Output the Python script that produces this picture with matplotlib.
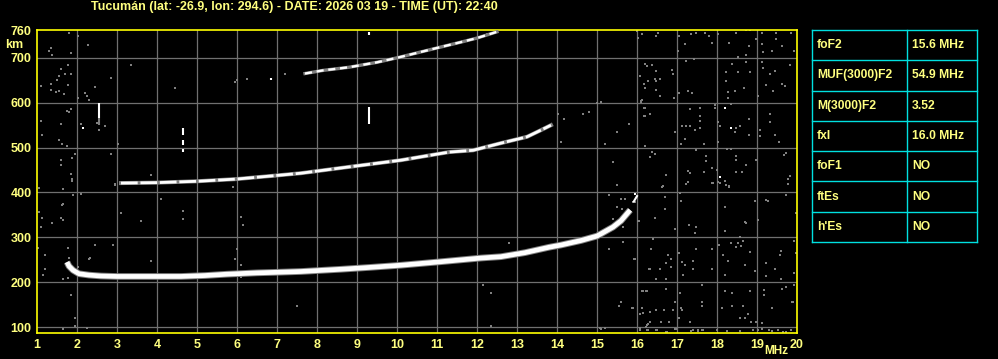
import numpy as np
import matplotlib
matplotlib.use("Agg")
import matplotlib.pyplot as plt

plt.rcParams['font.family'] = ['Liberation Sans', 'DejaVu Sans']
plt.rcParams['font.weight'] = 'bold'

title = "Tucumán (lat: -26.9, lon: 294.6) - DATE: 2026 03 19 - TIME (UT): 22:40"

# echo traces: frequency (MHz), virtual height (km)
hop1_f = [1.75, 1.8, 1.9, 2.05, 2.3, 2.6, 3.0, 3.6, 4.6, 5.2, 5.75, 6.5, 6.9, 7.6, 8.6,
          9.3, 10.1, 11.0, 12.1, 12.6, 13.2, 13.8, 14.1, 14.6, 15.0, 15.4, 15.6, 15.83]
hop1_h = [245, 236, 227, 219, 216, 214, 213, 213, 213, 215, 218, 221, 222, 224, 229,
          233, 238, 245, 254, 257, 266, 278, 283, 293, 303, 323, 337, 361]
cusp_f = [15.92, 16.0]
cusp_h = [380, 392]

hop2_f = [3.1, 4.0, 5.0, 6.0, 7.0, 7.6, 8.8, 10.1, 11.3, 11.9, 12.6, 13.25, 13.6, 13.85]
hop2_h = [421, 422, 425, 430, 438, 443, 457, 472, 490, 494, 510, 524, 539, 550]

hop3_f = [7.7, 8.15, 8.8, 9.5, 10.0, 10.5, 11.0, 11.6, 12.0, 12.5]
hop3_h = [665, 672, 679, 690, 700, 711, 722, 735, 744, 758]

# short vertical artefacts: freq, bottom, top
spike_f = [2.54, 2.54, 4.64, 4.64, 4.64, 9.3, 9.3, 6.85]
spike_lo = [567, 550, 528, 505, 490, 552, 751, 650]
spike_hi = [600, 567, 543, 518, 496, 590, 757, 656]
spike_white = [True, False, True, True, True, True, True, True]

# scattered noise pixels
noise = [
    (16.0, 759), (16.13, 752), (16.02, 745), (16.53, 756), (16.48, 748), (17.05, 748), (17.34, 752),
    (17.48, 756), (17.69, 756), (17.79, 748), (18.03, 753), (18.48, 756), (18.73, 761), (18.83, 761),
    (19.13, 756), (19.48, 756), (19.84, 756), (18.98, 743), (19.48, 743), (17.19, 730), (17.88, 733),
    (18.3, 733), (18.79, 726), (19.13, 731), (19.63, 726), (17.03, 716), (19.15, 713), (19.38, 716),
    (19.93, 716), (18.53, 702), (18.73, 706), (17.43, 697), (16.19, 687), (16.25, 682), (16.38, 683),
    (16.48, 670), (16.88, 673), (16.9, 664), (17.23, 693), (18.38, 687), (18.73, 690), (19.13, 691),
    (19.15, 678), (19.44, 670), (19.83, 683), (18.23, 669), (18.53, 669), (18.83, 669), (16.08, 659),
    (16.28, 648), (16.44, 652), (16.48, 648), (16.58, 652), (16.18, 642), (16.19, 633), (16.48, 629),
    (16.58, 615), (16.93, 611), (16.13, 607), (16.09, 604), (17.28, 626), (17.38, 621), (17.04, 621),
    (18.28, 624), (18.45, 627), (18.68, 632), (18.28, 611), (19.03, 615), (19.23, 639), (19.33, 663),
    (19.4, 626), (19.63, 642), (19.69, 637), (18.23, 648), (19.32, 557), (16.18, 589), (16.18, 571),
    (16.33, 575), (17.33, 585), (17.58, 589), (17.58, 571), (17.58, 560), (17.94, 596), (17.94, 589),
    (18.34, 598), (17.13, 549), (17.23, 549), (17.33, 549), (17.58, 544), (17.44, 540), (18.03, 557),
    (18.08, 549), (18.44, 535), (18.48, 544), (18.58, 549), (18.79, 563), (19.08, 540), (19.08, 525),
    (19.44, 527), (19.33, 575), (19.54, 513), (18.8, 527), (16.94, 535), (17.19, 520), (17.09, 509),
    (17.68, 509), (18.03, 513), (16.19, 504), (16.38, 491), (16.33, 480), (16.44, 486), (16.73, 438),
    (17.28, 448), (17.33, 443), (17.48, 495), (17.73, 482), (17.73, 470), (17.88, 455), (17.68, 446),
    (18.0, 451), (18.19, 425), (18.25, 498), (18.34, 498), (18.48, 482), (18.48, 473), (18.73, 462),
    (18.48, 446), (18.63, 446), (18.98, 473), (19.67, 483), (19.73, 488), (19.83, 437), (19.78, 429),
    (19.78, 419), (17.28, 424), (17.23, 419), (16.65, 414), (17.88, 422), (18.03, 424), (18.29, 414),
    (16.63, 413), (17.28, 424), (17.9, 422), (18.07, 422), (18.23, 416), (18.29, 413), (19.78, 420),
    (19.73, 394), (16.69, 390), (17.09, 381), (17.08, 399), (16.69, 364), (16.44, 344), (16.03, 337),
    (15.9, 379), (19.23, 384), (19.28, 381), (18.94, 381), (19.98, 355), (19.03, 338), (18.69, 335),
    (18.73, 331), (16.94, 318), (17.3, 328), (17.48, 324), (17.44, 310), (18.19, 368), (18.19, 315),
    (16.4, 296), (16.34, 274), (15.93, 252), (16.78, 261), (16.84, 252), (16.73, 243), (17.05, 266),
    (17.13, 246), (17.19, 239), (17.4, 247), (17.4, 229), (17.48, 274), (17.88, 274), (17.88, 229),
    (18.05, 283), (18.15, 261), (18.28, 247), (18.34, 288), (18.47, 279), (18.53, 288), (18.59, 281),
    (18.57, 300), (18.65, 292), (18.69, 239), (18.83, 268), (18.94, 226), (19.23, 243), (19.23, 214),
    (19.44, 230), (19.59, 270), (19.57, 260), (19.59, 208), (19.92, 221), (19.93, 292), (19.98, 266),
    (16.32, 230), (16.57, 230), (16.84, 234), (17.15, 217), (16.48, 208), (16.73, 208), (18.19, 217),
    (17.63, 194), (16.13, 180), (16.23, 180), (16.73, 185), (17.08, 177), (18.19, 180), (18.38, 177),
    (18.83, 181), (19.18, 182), (19.18, 171), (19.63, 185), (19.73, 190), (19.93, 194), (19.88, 156),
    (19.38, 142), (15.88, 143), (16.13, 143), (16.33, 133), (16.48, 138), (16.68, 138), (16.9, 138),
    (16.94, 156), (17.09, 142), (17.13, 138), (17.63, 156), (17.63, 147), (18.13, 142), (18.38, 147),
    (18.65, 147), (18.78, 129), (18.58, 121), (18.69, 121), (18.86, 111), (18.98, 111), (19.13, 110),
    (16.8, 111), (17.05, 121), (17.33, 111), (16.08, 129), (16.32, 111), (16.61, 111),
    (16.07, 93), (16.22, 101), (16.25, 93), (16.47, 93), (16.73, 90), (16.94, 96), (17.36, 92),
    (17.53, 92), (17.63, 93), (18.0, 93), (18.25, 92), (18.58, 92), (18.9, 93), (19.03, 93),
    (19.13, 97), (19.3, 93), (19.38, 92), (19.53, 93), (19.65, 90), (19.73, 90), (19.86, 93),
    (1.8, 756), (2.03, 748), (2.28, 728), (1.3, 715), (1.34, 721), (1.38, 707), (1.84, 711),
    (1.59, 676), (1.78, 685), (1.84, 664), (1.7, 663), (1.51, 650), (1.55, 659), (1.34, 642),
    (1.09, 638), (1.34, 629), (1.48, 624), (1.55, 627), (1.68, 620), (1.78, 639), (2.2, 622),
    (2.26, 615), (2.3, 607), (2.44, 635), (2.03, 611), (2.84, 655), (3.34, 683), (4.45, 633),
    (5.95, 647), (1.76, 581), (1.84, 585), (1.8, 580), (1.09, 559), (1.59, 553), (2.09, 553),
    (2.51, 555), (2.55, 540), (2.7, 549), (1.13, 527), (1.55, 517), (1.63, 508), (1.74, 504),
    (3.03, 508), (2.84, 486), (1.95, 486), (1.88, 477), (1.59, 473), (1.59, 462), (1.84, 442),
    (1.88, 429), (1.88, 425), (3.84, 440), (2.95, 418),
    (1.62, 372), (1.65, 338), (1.1, 323), (1.03, 276), (1.2, 260), (2.45, 283), (2.33, 254),
    (1.8, 254), (1.78, 276), (2.03, 234), (1.78, 209), (1.84, 171), (1.95, 120), (1.95, 102),
    (1.64, 96), (2.24, 98), (1.05, 356), (1.12, 343), (1.37, 332), (1.6, 343), (1.06, 410),
    (1.65, 374), (1.89, 394), (2.1, 396), (1.64, 407), (3.09, 354), (3.59, 337), (4.09, 385),
    (4.64, 358), (4.64, 342), (6.09, 346), (6.14, 328), (2.89, 283), (3.84, 248), (2.3, 251),
    (5.99, 274), (5.95, 251), (6.09, 238), (6.09, 212), (1.2, 229), (1.14, 216), (1.64, 207),
    (2.95, 416), (5.91, 412), (6.0, 650), (6.25, 652), (7.2, 665), (12.24, 752),
    (14.03, 574), (14.18, 563), (14.64, 574), (14.79, 579), (14.99, 600), (15.09, 602),
    (15.49, 534), (15.8, 552), (15.19, 508), (14.1, 512), (15.39, 467), (15.49, 416), (15.29, 394),
    (15.59, 385), (15.49, 368), (16.04, 337), (15.29, 274), (15.64, 289), (15.94, 251), (16.29, 229),
    (12.79, 288), (12.14, 194), (12.34, 176), (16.14, 181), (16.24, 181), (16.19, 588), (16.19, 571),
    (16.19, 504), (16.09, 602), (12.34, 103), (15.09, 96), (15.19, 98), (15.59, 156), (15.54, 147),
    (15.89, 143), (15.7, 386), (15.62, 363), (15.39, 342), (15.64, 323), (15.94, 379),
    (15.08, 98), (15.2, 98), (16.08, 98), (16.24, 104), (16.28, 93), (16.49, 93), (16.74, 90),
    (16.97, 97), (17.4, 93), (17.53, 93), (17.65, 93), (16.14, 131), (16.28, 107), (19.91, 156),
    (7.49, 147), (12.35, 102),
]
white_noise = [(18.19, 589), (18.34, 544), (18.08, 434), (2.14, 543), (15.94, 396)]

# scaled parameters table
param_names = ["foF2", "MUF(3000)F2", "M(3000)F2", "fxI", "foF1", "ftEs", "h'Es"]
param_values = ["15.6 MHz", "54.9 MHz", "3.52", "16.0 MHz", "NO", "NO", "NO"]

yellow = '#ffff80'
grey = '#808080'

fig = plt.figure(figsize=(9.98, 3.59), dpi=100, facecolor='black')
ax = fig.add_axes([37 / 998, 26 / 359, 760 / 998, 303 / 359], facecolor='black')

for f in range(2, 20):
    ax.axvline(f, color='#707070', lw=0.9, zorder=1)
for h in range(100, 800, 100):
    ax.axhline(h, color='#707070', lw=0.9, zorder=1)

nf, nh = np.array(noise).T
ax.plot(nf, nh, 's', ms=1.9, mew=0, color=grey, zorder=2, antialiased=False)
wf, wh = np.array(white_noise).T
ax.plot(wf, wh, 's', ms=2.0, mew=0, color='white', zorder=2, antialiased=False)

for f, lo, hi, w in zip(spike_f, spike_lo, spike_hi, spike_white):
    ax.plot([f, f], [lo, hi], color='white' if w else grey, lw=1.5,
            solid_capstyle='butt', zorder=3)

# traces: grey fringe under white core
ax.plot(hop1_f, hop1_h, color=grey, lw=4.8, zorder=3, solid_capstyle='butt')
ax.plot(hop1_f, hop1_h, color='white', lw=3.4, zorder=4, solid_capstyle='butt')
ax.plot(cusp_f, cusp_h, color='white', lw=1.5, zorder=4)
ax.plot(hop2_f, hop2_h, color=grey, lw=2.9, zorder=3)
ax.plot(hop2_f, hop2_h, color='white', lw=2.0, zorder=4, dashes=(6, 1))
ax.plot(hop3_f, hop3_h, color=grey, lw=2.4, zorder=3)
ax.plot(hop3_f, hop3_h, color='white', lw=1.7, zorder=4, dashes=(3, 2))

ax.set_xlim(1, 20)
ax.set_ylim(87, 762)
ax.set_xticks(range(1, 21))
ax.set_yticks([100, 200, 300, 400, 500, 600, 700, 760])
ax.tick_params(length=0, colors=yellow, labelsize=9, pad=4)
for lab in ax.get_xticklabels() + ax.get_yticklabels():
    lab.set_fontweight('bold')
for s in ax.spines.values():
    s.set_color('#ffff00')
    s.set_linewidth(1.2)

fig.text(91 / 998, 1 - 7 / 359, title, color=yellow, fontsize=9,
         fontweight='bold', ha='left', va='center')
fig.text(5 / 998, 1 - 45 / 359, "km", color=yellow, fontsize=9,
         fontweight='bold', ha='left', va='center')
fig.text(764 / 998, 1 - 351 / 359, "MHz", color=yellow, fontsize=8.5,
         fontweight='bold', ha='left', va='center')

# parameter table
tax = fig.add_axes([812 / 998, 117 / 359, 165 / 998, 212 / 359], facecolor='black')
tax.set_xlim(0, 165)
tax.set_ylim(len(param_names), 0)
tax.axis('off')
cyan = '#00e0e0'
for i in range(len(param_names) + 1):
    tax.plot([0, 165], [i, i], color=cyan, lw=1, clip_on=False)
for x in (0, 95, 165):
    tax.plot([x, x], [0, len(param_names)], color=cyan, lw=1, clip_on=False)
for i, (name, val) in enumerate(zip(param_names, param_values)):
    tax.text(5, i + 0.5, name, color=yellow, fontsize=8.7, fontweight='bold',
             ha='left', va='center')
    tax.text(100, i + 0.5, val, color=yellow, fontsize=8.7, fontweight='bold',
             ha='left', va='center')

fig.savefig('out.png', dpi=100, facecolor='black')
